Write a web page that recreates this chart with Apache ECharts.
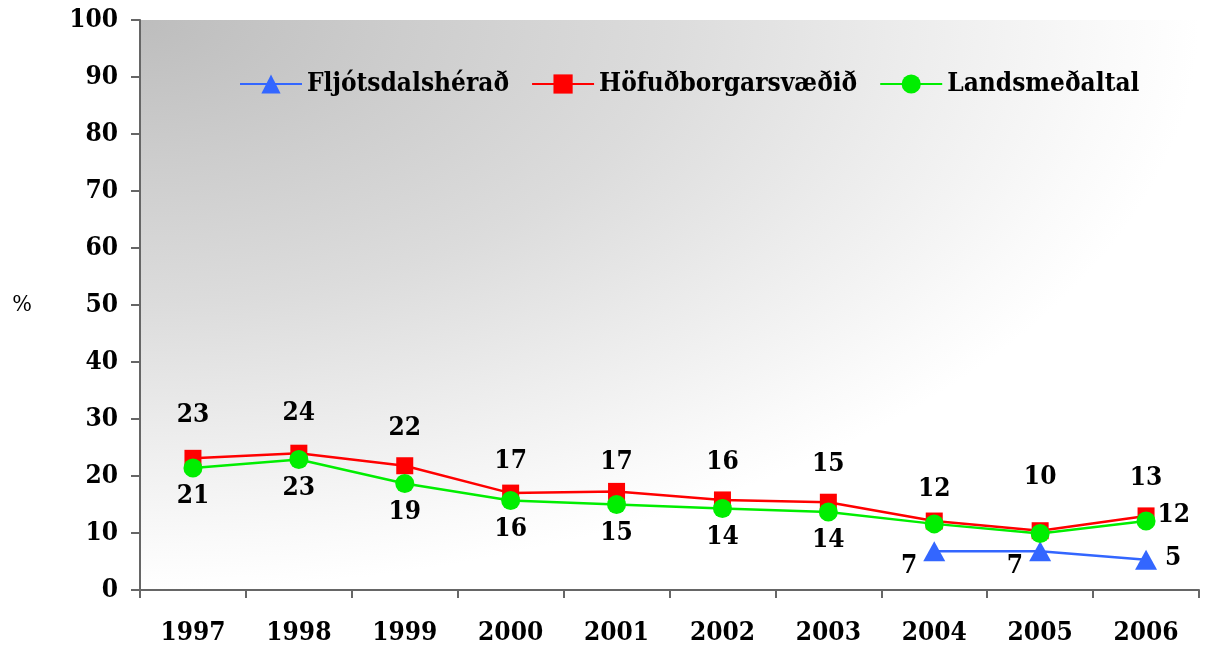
<!DOCTYPE html>
<html>
<head>
<meta charset="utf-8">
<script src="https://cdn.jsdelivr.net/npm/echarts@6/dist/echarts.min.js"></script>
<style>html,body{margin:0;padding:0;background:#fff}#chart{width:1208px;height:646px}</style>
</head>
<body>
<div id="chart"></div>
<script>
const categories = ['1997','1998','1999','2000','2001','2002','2003','2004','2005','2006'];
const fljotsdalsherad = [null, null, null, null, null, null, null, 6.8, 6.8, 5.3];
const hofudborgarsvaedid = [23.1, 24.0, 21.8, 17.0, 17.3, 15.8, 15.4, 12.1, 10.4, 13.0];
const landsmedaltal = [21.4, 22.9, 18.7, 15.7, 15.0, 14.3, 13.7, 11.6, 9.9, 12.1];
const yTicks = { min: 0, max: 100, interval: 10 };
const seriesNames = ['Fljótsdalshérað', 'Höfuðborgarsvæðið', 'Landsmeðaltal'];

const FONT = 'DejaVu Serif Condensed';
const G = { left: 140, top: 20, width: 1059, height: 570 };

// extra label lift (px) for a few red labels that sit higher in the reference
const redLift = [6, 2, 0, -6, -8, 0, 0, -6, 16, 0];

const chart = echarts.init(document.getElementById('chart'), null, { renderer: 'canvas' });

const redData = hofudborgarsvaedid.map((v, i) => ({
  value: v,
  label: { offset: [0, -redLift[i]] }
}));
const greenData = landsmedaltal.map((v, i) => {
  const o = { value: v };
  if (i === 7 || i === 8) o.label = { show: false };
  if (i === 9) o.label = { position: 'right', distance: 2, offset: [0, -6] };
  return o;
});
const blueData = fljotsdalsherad.map((v, i) => {
  if (v == null) return null;
  const o = { value: v };
  if (i === 9) o.label = { position: 'right', distance: 8, offset: [0, -2] };
  else o.label = { position: 'left', distance: 6, offset: [0, 15] };
  return o;
});

const labelText = p => Math.round(p.value);
const TXT = { fontFamily: FONT, fontSize: 26, fontWeight: 'bold', color: '#000' };

const option = {
  backgroundColor: '#ffffff',
  animation: false,
  textStyle: { fontFamily: FONT, color: '#000' },
  grid: { left: G.left, top: G.top, width: G.width, height: G.height },
  graphic: [
    {
      type: 'rect', x: G.left, y: G.top, z: -10, silent: true,
      scaleX: G.width / G.height, scaleY: 1,
      shape: { x: 0, y: 0, width: G.height, height: G.height },
      style: {
        fill: {
          type: 'radial', x: 0, y: 0, r: 1,
          colorStops: [
            { offset: 0, color: '#bdbdbd' },
            { offset: 0.25, color: '#cdcdcd' },
            { offset: 0.5, color: '#dcdcdc' },
            { offset: 0.72, color: '#ececec' },
            { offset: 0.92, color: '#fafafa' },
            { offset: 1, color: '#ffffff' }
          ]
        }
      }
    },
    {
      type: 'text', x: 22, y: 305, silent: true,
      style: { text: '%', font: '23px "' + FONT + '"', fill: '#000', align: 'center', verticalAlign: 'middle' }
    }
  ],
  legend: {
    left: 234, top: 66,
    itemWidth: 62, itemHeight: 24, itemGap: 22,
    textStyle: { fontFamily: FONT, fontSize: 26, fontWeight: 'bold', color: '#000', padding: [0, 0, 0, 0] },
    data: seriesNames
  },
  xAxis: {
    type: 'category',
    data: categories,
    boundaryGap: true,
    axisLine: { lineStyle: { color: '#666666', width: 2 } },
    axisTick: { show: true, length: 8, interval: 0, lineStyle: { color: '#666666', width: 2 } },
    axisLabel: Object.assign({ margin: 30, interval: 0 }, TXT),
    splitLine: { show: false }
  },
  yAxis: {
    type: 'value',
    min: yTicks.min, max: yTicks.max, interval: yTicks.interval,
    axisLine: { show: true, lineStyle: { color: '#666666', width: 2 } },
    axisTick: { show: true, length: 9, lineStyle: { color: '#666666', width: 2 } },
    axisLabel: Object.assign({ margin: 22 }, TXT),
    splitLine: { show: false }
  },
  series: [
    {
      name: seriesNames[0], type: 'line', data: blueData, connectNulls: false,
      symbol: 'triangle', symbolSize: [22, 20],
      itemStyle: { color: '#3366ff' },
      lineStyle: { color: '#3366ff', width: 2.5 },
      label: Object.assign({ show: true, formatter: labelText }, TXT),
      z: 3
    },
    {
      name: seriesNames[1], type: 'line', data: redData,
      symbol: 'rect', symbolSize: 17,
      itemStyle: { color: '#ff0000' },
      lineStyle: { color: '#ff0000', width: 2.5 },
      label: Object.assign({ show: true, position: 'top', distance: 16, formatter: labelText }, TXT),
      z: 3
    },
    {
      name: seriesNames[2], type: 'line', data: greenData,
      symbol: 'circle', symbolSize: 19,
      itemStyle: { color: '#00ee00' },
      lineStyle: { color: '#00ee00', width: 2.5 },
      label: Object.assign({ show: true, position: 'bottom', distance: 6, formatter: labelText }, TXT),
      z: 4
    }
  ]
};
chart.setOption(option);
</script>
</body>
</html>
